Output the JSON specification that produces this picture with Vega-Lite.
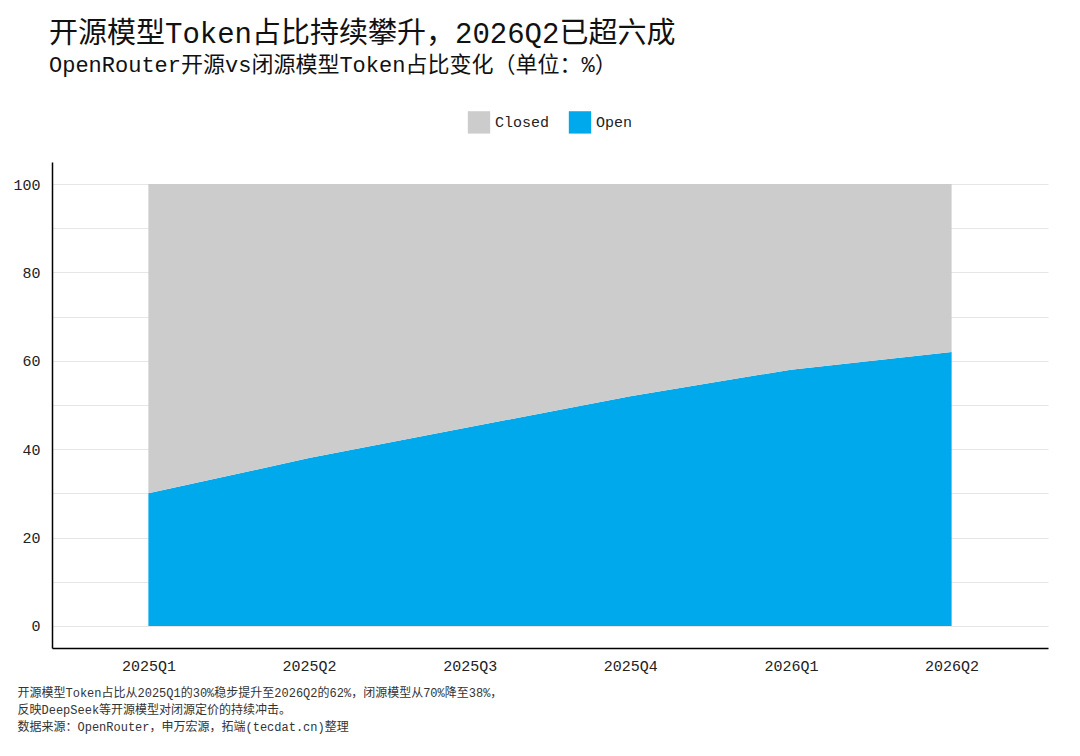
{
  "$schema": "https://vega.github.io/schema/vega-lite/v6.json",
  "autosize": {"type": "fit", "contains": "padding"},
  "width": 1080, "height": 756,
  "padding": {"left": 12, "top": 20, "right": 32, "bottom": 24},
  "background": "white",
  "config": {
    "font": "Liberation Mono, Noto Sans CJK SC",
    "view": {"stroke": null},
    "legend": {"layout": {"top": {"anchor": "middle"}}}
  },
  "title": {
    "text": "开源模型Token占比持续攀升，2026Q2已超六成",
    "subtitle": "OpenRouter开源vs闭源模型Token占比变化（单位：%）",
    "anchor": "start", "dx": 36, "fontSize": 29, "fontWeight": "normal", "color": "#111",
    "subtitleFontSize": 22, "subtitleColor": "#111", "subtitlePadding": 6, "offset": 34,
    "font": "Liberation Mono, Noto Sans CJK SC", "subtitleFont": "Liberation Mono, Noto Sans CJK SC"
  },
  "data": {"values": [
    {"q": "2025Q1", "series": "Open", "v": 30}, {"q": "2025Q1", "series": "Closed", "v": 70},
    {"q": "2025Q2", "series": "Open", "v": 38}, {"q": "2025Q2", "series": "Closed", "v": 62},
    {"q": "2025Q3", "series": "Open", "v": 45}, {"q": "2025Q3", "series": "Closed", "v": 55},
    {"q": "2025Q4", "series": "Open", "v": 52}, {"q": "2025Q4", "series": "Closed", "v": 48},
    {"q": "2026Q1", "series": "Open", "v": 58}, {"q": "2026Q1", "series": "Closed", "v": 42},
    {"q": "2026Q2", "series": "Open", "v": 62}, {"q": "2026Q2", "series": "Closed", "v": 38}
  ]},
  "mark": {"type": "area", "opacity": 1},
  "encoding": {
    "x": {"field": "q", "type": "ordinal", "scale": {"type": "point", "padding": 0.6},
      "axis": {"labelAngle": 0, "labelFontSize": 15, "labelColor": "#222", "ticks": false, "labelPadding": 10,
        "domainColor": "#000", "domainWidth": 1.5, "grid": false,
        "title": ["开源模型Token占比从2025Q1的30%稳步提升至2026Q2的62%，闭源模型从70%降至38%，", "反映DeepSeek等开源模型对闭源定价的持续冲击。", "数据来源：OpenRouter，申万宏源，拓端(tecdat.cn)整理"],
        "titleAnchor": "start", "titleAlign": "left", "titleX": -35, "titleFontSize": 12, "titleFontWeight": "normal",
        "titleColor": "#333", "titlePadding": 14, "titleLineHeight": 17}},
    "y": {"field": "v", "type": "quantitative", "stack": "zero",
      "scale": {"domain": [-5, 105], "nice": false},
      "axis": {"values": [0, 10, 20, 30, 40, 50, 60, 70, 80, 90, 100], "labelExpr": "datum.value % 20 == 0 ? datum.label : ''",
        "title": null, "ticks": false, "labelFontSize": 15, "labelColor": "#222", "labelPadding": 12,
        "domainColor": "#000", "domainWidth": 1.5, "gridColor": "#e6e6e6"}},
    "color": {"field": "series", "type": "nominal",
      "scale": {"domain": ["Closed", "Open"], "range": ["#cccccc", "#00a8ec"]},
      "legend": {"orient": "top", "direction": "horizontal", "title": null, "symbolType": "square", "symbolSize": 500,
        "labelFontSize": 15, "labelColor": "#222", "columnPadding": 18, "offset": 28}},
    "order": {"field": "series", "sort": "descending"}
  }
}
